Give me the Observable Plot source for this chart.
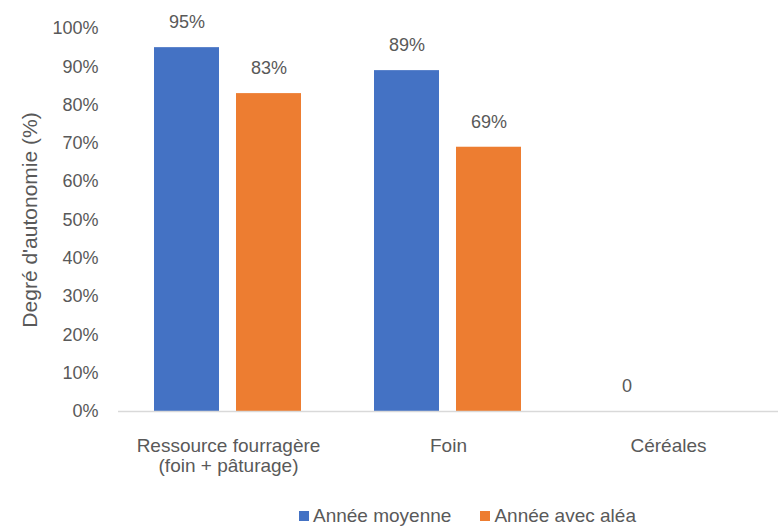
<!DOCTYPE html>
<html>
<head>
<meta charset="utf-8">
<script src="https://cdn.jsdelivr.net/npm/d3@7"></script>
<script src="https://cdn.jsdelivr.net/npm/@observablehq/plot@0.6"></script>
<style>
  html, body { margin: 0; padding: 0; background: #fff; }
  body { width: 783px; height: 529px; overflow: hidden; font-family: "Liberation Sans", Arial, sans-serif; }
  #chart svg { display: block; }
  #legend { display: flex; justify-content: flex-start; align-items: center; height: 39px; font-size: 19px; color: #595959; padding-left: 299px; padding-top: 12px; box-sizing: border-box; }
  #legend .item { display: flex; align-items: center; margin-right: 29px; }
  #legend .sw { width: 10px; height: 10px; margin-right: 4px; }
</style>
</head>
<body>
<div id="chart"></div>
<div id="legend"></div>
<script>
const categories = ["Ressource fourragère\n(foin + pâturage)", "Foin", "Céréales"];
const seriesNames = ["Année moyenne", "Année avec aléa"];
const valuesMoyenne = [95, 89, 0];
const valuesAlea = [83, 69, null];
const colors = ["#4472C4", "#ED7D31"];
const yTicks = [0, 10, 20, 30, 40, 50, 60, 70, 80, 90, 100];
const yLabel = "Degré d'autonomie (%)";

const data = [];
categories.forEach((c, i) => {
  data.push({cat: c, series: seriesNames[0], value: valuesMoyenne[i]});
  data.push({cat: c, series: seriesNames[1], value: valuesAlea[i]});
});
const barData = data.filter(d => d.value != null);
const labelData = barData.map(d => ({...d, label: d.value === 0 ? "0" : d.value + "%"}));

const font = '"Liberation Sans", Arial, sans-serif';

const chart = Plot.plot({
  width: 783,
  height: 490,
  marginLeft: 118,
  marginRight: 5,
  marginTop: 28,
  marginBottom: 79,
  style: {fontFamily: font, fontSize: "18px", color: "#595959", background: "#fff"},
  fx: {domain: categories, padding: 0, label: null, axis: null},
  x: {domain: seriesNames, axis: null, paddingInner: 0.207, paddingOuter: 0.43},
  y: {domain: [0, 100], ticks: yTicks, tickFormat: d => d + "%", tickSize: 0, tickPadding: 20,
      label: null},
  color: {domain: seriesNames, range: colors},
  marks: [
    Plot.axisFx({domain: categories, anchor: "bottom", tickSize: 0, tickPadding: 26, fontSize: 19, lineHeight: 1.07, label: null, fill: "#595959"}),
    Plot.barY(barData, {fx: "cat", x: "series", y: "value", fill: "series"}),
    Plot.ruleY([0], {stroke: "#D9D9D9", strokeWidth: 1.5}),
    Plot.text(labelData, {fx: "cat", x: "series", y: "value", text: "label", dy: -25, fill: "#595959", fontSize: 18}),
    Plot.axisY({ticks: yTicks, tickFormat: d => d + "%", tickSize: 0, tickPadding: 20, fontSize: 18, fill: "#595959",
      label: yLabel, labelAnchor: "center", labelOffset: 96, labelArrow: "none"})
  ]
});
chart.querySelectorAll("text").forEach(el => {
  if (el.textContent.includes("autonomie")) {
    el.setAttribute("font-size", "21");
    el.style.fontSize = "21px";
  }
});
document.getElementById("chart").appendChild(chart);

const legend = document.getElementById("legend");
seriesNames.forEach((s, i) => {
  const item = document.createElement("div");
  item.className = "item";
  const sw = document.createElement("div");
  sw.className = "sw";
  sw.style.background = colors[i];
  const t = document.createElement("span");
  t.textContent = s;
  item.appendChild(sw);
  item.appendChild(t);
  legend.appendChild(item);
});
</script>
</body>
</html>
